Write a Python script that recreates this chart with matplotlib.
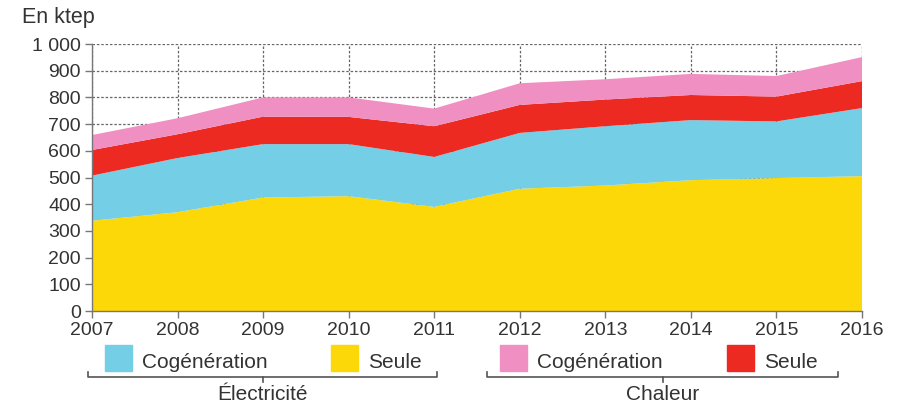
import matplotlib
matplotlib.use("Agg")
import matplotlib.pyplot as plt
from matplotlib.patches import Rectangle
from matplotlib.lines import Line2D

plt.rcParams['font.family'] = ['Liberation Sans', 'DejaVu Sans']

# data (ktep)
years = [2007, 2008, 2009, 2010, 2011, 2012, 2013, 2014, 2015, 2016]
elec_seule = [338, 370, 425, 430, 390, 458, 470, 490, 498, 505]
elec_cogen = [169, 203, 200, 195, 187, 209, 222, 225, 212, 255]
chal_seule = [96, 89, 103, 102, 115, 105, 100, 94, 93, 101]
chal_cogen = [56, 60, 72, 73, 66, 81, 76, 79, 77, 90]
yticks = [0, 100, 200, 300, 400, 500, 600, 700, 800, 900, 1000]
ytick_labels = ['0', '100', '200', '300', '400', '500', '600', '700', '800', '900', '1 000']

col_yellow = '#FDD808'
col_blue = '#74CEE6'
col_red = '#EC2A22'
col_pink = '#F08FC2'
txt = '#333333'

W, H = 899, 405
fig = plt.figure(figsize=(W / 100, H / 100), dpi=100)
ax = fig.add_axes([92 / W, 1 - 311 / H, (862 - 92) / W, (311 - 44) / H])

ax.stackplot(years, elec_seule, elec_cogen, chal_seule, chal_cogen,
             colors=[col_yellow, col_blue, col_red, col_pink], linewidth=0, zorder=2)

ax.set_xlim(2007, 2016)
ax.set_ylim(0, 1000)
ax.set_xticks(years)
ax.set_xticklabels([str(y) for y in years])
ax.set_yticks(yticks)
ax.set_yticklabels(ytick_labels)
ax.grid(True, color='#666666', linestyle=(0, (2, 1.5)), linewidth=0.9, zorder=0)
ax.set_axisbelow(True)
for s in ['top', 'right']:
    ax.spines[s].set_visible(False)
for s in ['left', 'bottom']:
    ax.spines[s].set_color('#777777')
    ax.spines[s].set_linewidth(1.0)
ax.tick_params(axis='both', colors='#777777', labelcolor=txt, labelsize=14, length=5, width=1)
ax.tick_params(axis='x', pad=3)
ax.tick_params(axis='y', pad=3)

fig.text(22 / W, 1 - 18 / H, 'En ktep', fontsize=15.5, color=txt, va='center', ha='left')


def px(x, y):
    return x / W, 1 - y / H


def legend_item(x, color, label):
    fig.add_artist(Rectangle(px(x, 371), 27 / W, 26 / H, color=color,
                             transform=fig.transFigure))
    fig.text(*px(x + 37, 363), label, fontsize=15, color=txt, va='center', ha='left')


def bracket(x0, x1, label):
    y = 377
    xm = (x0 + x1) / 2
    kw = dict(color='#555555', linewidth=1.2, transform=fig.transFigure)
    fig.add_artist(Line2D(*zip(px(x0, y - 5), px(x0, y), px(x1, y), px(x1, y - 5)), **kw))
    fig.add_artist(Line2D(*zip(px(xm, y), px(xm, y + 5)), **kw))
    fig.text(*px(xm, 395), label, fontsize=15, color=txt, va='center', ha='center')


legend_item(105, col_blue, 'Cogénération')
legend_item(331, col_yellow, 'Seule')
legend_item(500, col_pink, 'Cogénération')
legend_item(727, col_red, 'Seule')
bracket(88, 437, 'Électricité')
bracket(487, 838, 'Chaleur')

fig.savefig('out.png', dpi=100)
